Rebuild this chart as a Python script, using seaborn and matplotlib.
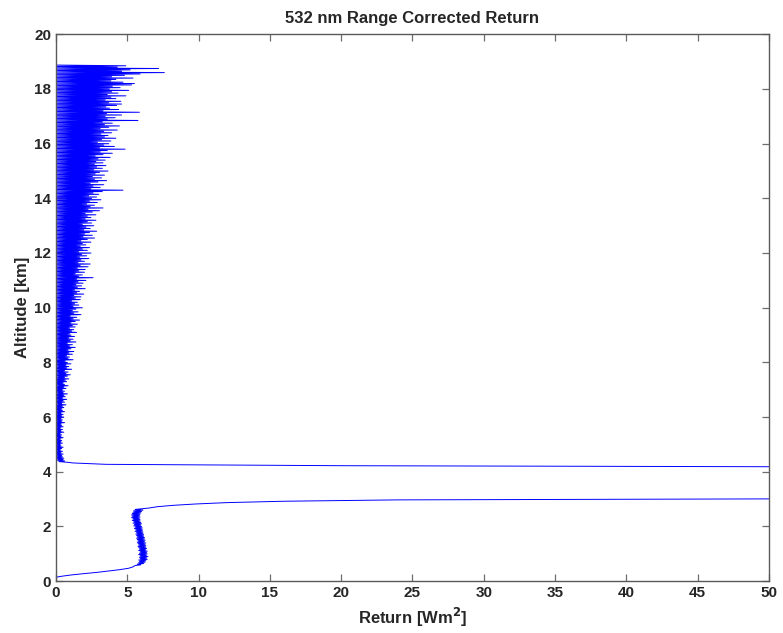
import numpy as np
import pandas as pd
import matplotlib
matplotlib.use("Agg")
import matplotlib.pyplot as plt
import seaborn as sns

# Range-corrected 532 nm return, listed bin by bin from the ground upwards.
# Each profile segment has its own first-bin altitude and bin size (km).
near_field = [-0.2, 0.3, 1.0, 1.9, 2.9, 3.7, 4.5, 5.1, 5.4]
NEAR_FIELD_BINS = (0.12, 0.05)

boundary_layer = [
    5.55, 5.95, 5.70, 6.15, 5.80, 6.25, 5.85, 6.30, 5.80, 6.40,
    5.90, 6.35, 5.85, 6.45, 5.90, 6.35, 5.80, 6.40, 5.85, 6.35,
    5.90, 6.40, 5.80, 6.30, 5.85, 6.35, 5.80, 6.30, 5.75, 6.30,
    5.80, 6.25, 5.75, 6.30, 5.70, 6.20, 5.75, 6.25, 5.70, 6.20,
    5.65, 6.20, 5.70, 6.15, 5.65, 6.15, 5.60, 6.10, 5.65, 6.10,
    5.55, 6.05, 5.60, 6.05, 5.50, 6.05, 5.55, 6.00, 5.45, 5.95,
    5.50, 6.00, 5.40, 5.95, 5.45, 5.90, 5.35, 5.90, 5.40, 5.85,
    5.30, 5.90, 5.35, 5.85, 5.30, 5.90, 5.35, 5.95, 5.40, 6.00,
    5.45, 6.10, 5.55,
]
BOUNDARY_LAYER_BINS = (0.57, 0.025)

cloud_layer = [
    6.5, 7.1, 8.2, 9.8, 12.0, 16.0, 24.0,
    60, 90, 130, 180, 240, 300, 360, 420, 470, 500, 510, 500, 480,
    450, 410, 360, 310, 260, 210, 170, 130, 100, 80, 60,
    20.0, 3.5, 1.2,
]
CLOUD_LAYER_BINS = (2.67, 0.05)

trop_4km = [
    0.80, 0.20, 0.60, 0.10, 0.50, 0.05, 0.55, 0.00, 0.45, 0.10,
    0.40, -0.05, 0.50, 0.05, 0.35, -0.10, 0.45, 0.10, 0.30, 0.00,
    0.40, 0.05, 0.50, -0.10, 0.35, 0.10, 0.30, -0.05, 0.45, 0.00,
    0.35, 0.05, 0.40, -0.10, 0.30, 0.10, 0.50, 0.00, 0.35, -0.05,
]
trop_5km = [
    0.40, 0.05, 0.30, -0.10, 0.55, 0.10, 0.35, 0.00, 0.45, -0.05,
    0.30, 0.10, 0.50, -0.15, 0.40, 0.05, 0.35, 0.00, 0.60, -0.10,
    0.40, 0.10, 0.45, -0.05, 0.35, 0.05, 0.55, 0.00, 0.40, -0.10,
    0.50, 0.10, 0.35, -0.05, 0.60, 0.05, 0.45, 0.00, 0.40, -0.10,
]
trop_6km = [
    0.55, 0.05, 0.45, -0.10, 0.70, 0.10, 0.40, 0.00, 0.60, -0.05,
    0.50, 0.10, 0.75, -0.15, 0.45, 0.05, 0.65, 0.00, 0.55, -0.10,
    0.80, 0.10, 0.50, -0.05, 0.60, 0.05, 0.45, 0.00, 0.70, -0.10,
    0.55, 0.10, 0.85, -0.05, 0.60, 0.05, 0.50, 0.00, 0.75, -0.10,
]
trop_7km = [
    0.65, 0.05, 0.90, -0.10, 0.60, 0.10, 0.80, 0.00, 1.00, -0.05,
    0.70, 0.10, 0.85, -0.15, 0.60, 0.05, 1.10, 0.00, 0.75, -0.10,
    0.90, 0.10, 0.70, -0.05, 1.05, 0.05, 0.80, 0.00, 0.65, -0.10,
    1.20, 0.10, 0.85, -0.05, 0.95, 0.05, 0.75, 0.00, 1.15, -0.10,
]
trop_8km = [
    0.90, 0.05, 1.25, -0.10, 0.85, 0.10, 1.05, 0.00, 1.35, -0.05,
    0.95, 0.10, 1.15, -0.15, 0.80, 0.05, 1.40, 0.00, 1.00, -0.10,
    1.20, 0.10, 0.90, -0.05, 1.30, 0.05, 1.05, 0.00, 0.95, -0.10,
    1.45, 0.10, 1.10, -0.05, 1.25, 0.05, 0.95, 0.00, 1.35, -0.10,
]
trop_9km = [
    1.15, 0.05, 1.50, -0.10, 1.05, 0.10, 1.35, 0.00, 1.65, -0.05,
    1.20, 0.10, 1.45, -0.15, 1.00, 0.05, 1.75, 0.00, 1.25, -0.10,
    1.55, 0.10, 1.15, -0.05, 1.40, 0.05, 1.85, 0.00, 1.20, -0.10,
    1.60, 0.10, 1.30, -0.05, 1.50, 0.05, 1.10, 0.00, 1.70, -0.10,
]
trop_10km = [
    1.35, 0.05, 1.75, -0.10, 1.25, 0.10, 1.95, 0.00, 1.45, -0.05,
    1.65, 0.10, 1.30, -0.15, 2.05, 0.05, 1.50, 0.00, 1.80, -0.10,
    1.40, 0.10, 1.90, -0.05, 1.55, 0.05, 2.10, 0.00, 1.45, -0.10,
    2.60, 0.10, 1.60, -0.05, 1.85, 0.05, 1.35, 0.00, 2.00, -0.10,
]
trop_11km = [
    1.60, 0.05, 2.05, -0.10, 1.50, 0.10, 2.25, 0.00, 1.70, -0.05,
    2.40, 0.10, 1.55, -0.15, 2.00, 0.05, 1.75, 0.00, 2.30, -0.10,
    1.65, 0.10, 2.15, -0.05, 1.80, 0.05, 2.45, 0.00, 1.60, -0.10,
    2.20, 0.10, 1.85, -0.05, 2.35, 0.05, 1.70, 0.00, 2.10, -0.10,
]
trop_12km = [
    1.85, 0.05, 2.45, -0.10, 1.75, 0.10, 2.20, 0.00, 2.70, -0.05,
    1.90, 0.10, 2.55, -0.15, 2.00, 0.05, 2.35, 0.00, 2.85, -0.10,
    1.95, 0.10, 2.40, -0.05, 2.10, 0.05, 2.65, 0.00, 1.85, -0.10,
    2.50, 0.10, 2.20, -0.05, 2.80, 0.05, 2.05, 0.00, 2.45, -0.10,
]
trop_13km = [
    2.20, 0.05, 2.80, -0.10, 2.05, 0.10, 2.55, 0.00, 3.05, -0.05,
    2.25, 0.10, 3.30, -0.15, 2.40, 0.05, 2.70, 0.00, 2.15, -0.10,
    2.90, 0.10, 2.35, -0.05, 3.15, 0.05, 2.50, 0.00, 2.85, -0.10,
    2.30, 0.10, 3.00, -0.05, 2.60, 0.05, 3.25, 0.00, 4.70, -0.10,
]
trop_14km = [
    2.45, 0.05, 3.10, -0.10, 2.60, 0.10, 3.35, 0.00, 2.40, -0.05,
    2.95, 0.10, 3.55, -0.15, 2.70, 0.05, 3.20, 0.00, 2.55, -0.10,
    3.40, 0.10, 2.75, -0.05, 3.05, 0.05, 3.65, 0.00, 2.65, -0.10,
    3.25, 0.10, 2.85, -0.05, 3.50, 0.05, 2.70, 0.00, 3.30, -0.10,
]
trop_15km = [
    2.80, 0.05, 3.45, -0.10, 2.95, 0.10, 3.80, 0.00, 2.75, -0.05,
    3.30, 0.10, 3.95, -0.15, 3.10, 0.05, 3.60, 0.00, 4.85, -0.10,
    3.05, 0.10, 4.10, -0.05, 3.35, 0.05, 3.70, 0.00, 2.90, -0.10,
    3.85, 0.10, 3.20, -0.05, 4.20, 0.05, 3.40, 0.00, 3.65, -0.10,
]
trop_16km = [
    3.15, 0.05, 3.90, -0.10, 3.35, 0.10, 4.30, 0.00, 3.10, -0.05,
    3.70, 0.10, 4.45, -0.15, 3.40, 0.05, 3.95, 0.00, 3.25, -0.10,
    5.75, 0.10, 3.60, -0.05, 4.15, 0.05, 3.45, 0.00, 4.60, -0.10,
    3.55, 0.10, 5.85, -0.05, 3.30, 0.05, 4.40, 0.00, 3.75, -0.10,
]
trop_17km = [
    3.50, 0.05, 4.25, -0.10, 4.60, 0.10, 3.70, 0.00, 4.55, -0.05,
    3.45, 0.10, 4.20, -0.15, 3.85, 0.05, 4.90, 0.00, 3.60, -0.10,
    4.35, 0.10, 3.90, -0.05, 5.10, 0.05, 3.75, 0.00, 4.50, -0.10,
    3.95, 0.10, 5.30, -0.05, 5.50, 0.05, 4.70, 0.00, 3.85, -0.10,
]
trop_18km = [
    4.20, 0.05, 5.40, -0.10, 3.90, 0.10, 4.80, 0.00, 5.90, -0.05,
    7.60, 0.10, 4.60, -0.15, 5.20, 0.05, 7.20, 0.00, 4.30, -0.10,
    4.90, 0.10,
]
TROPOSPHERE_BINS = (4.345, 0.025)
troposphere = (trop_4km + trop_5km + trop_6km + trop_7km + trop_8km
               + trop_9km + trop_10km + trop_11km + trop_12km + trop_13km
               + trop_14km + trop_15km + trop_16km + trop_17km + trop_18km)

x_ticks = [0, 5, 10, 15, 20, 25, 30, 35, 40, 45, 50]
y_ticks = [0, 2, 4, 6, 8, 10, 12, 14, 16, 18, 20]


def segment_altitudes(values, bins):
    first_km, step_km = bins
    return first_km + step_km * np.arange(len(values))


segments = [
    (near_field, NEAR_FIELD_BINS),
    (boundary_layer, BOUNDARY_LAYER_BINS),
    (cloud_layer, CLOUD_LAYER_BINS),
    (troposphere, TROPOSPHERE_BINS),
]
returns = np.concatenate([np.asarray(v, dtype=float) for v, _ in segments])
altitude = np.concatenate([segment_altitudes(v, b) for v, b in segments])
profile = pd.DataFrame({"return": returns, "altitude": altitude})

sns.set_style("ticks")
plt.rcParams["font.family"] = ["Liberation Sans", "DejaVu Sans"]
plt.rcParams["font.weight"] = "bold"

fig = plt.figure(figsize=(7.83, 6.33), dpi=100)
ax = fig.add_axes([0.0715, 0.082, 0.9105, 0.864])

sns.lineplot(data=profile, x="return", y="altitude", sort=False,
             estimator=None, color="#0000ff", linewidth=0.7, ax=ax)

ax.set_xlim(x_ticks[0], x_ticks[-1])
ax.set_ylim(y_ticks[0], y_ticks[-1])
ax.set_xticks(x_ticks)
ax.set_yticks(y_ticks)
ax.tick_params(direction="in", length=5, width=0.9, color="#6e6e6e",
               top=True, right=True, labelsize=11, pad=3.5)
for lbl in ax.get_xticklabels() + ax.get_yticklabels():
    lbl.set_fontweight("bold")
for side in ["left", "right", "top", "bottom"]:
    ax.spines[side].set_visible(True)
    ax.spines[side].set_color("#5a5a5a")
    ax.spines[side].set_linewidth(1.0)

ax.set_title("532 nm Range Corrected Return", fontsize=12, fontweight="bold", pad=8)
ax.set_xlabel("Return [Wm$^\\mathbf{2}$]", fontsize=12, fontweight="bold", labelpad=4)
ax.set_ylabel("Altitude [km]", fontsize=12, fontweight="bold", labelpad=3)

fig.savefig("out.png", dpi=100, facecolor="white")
